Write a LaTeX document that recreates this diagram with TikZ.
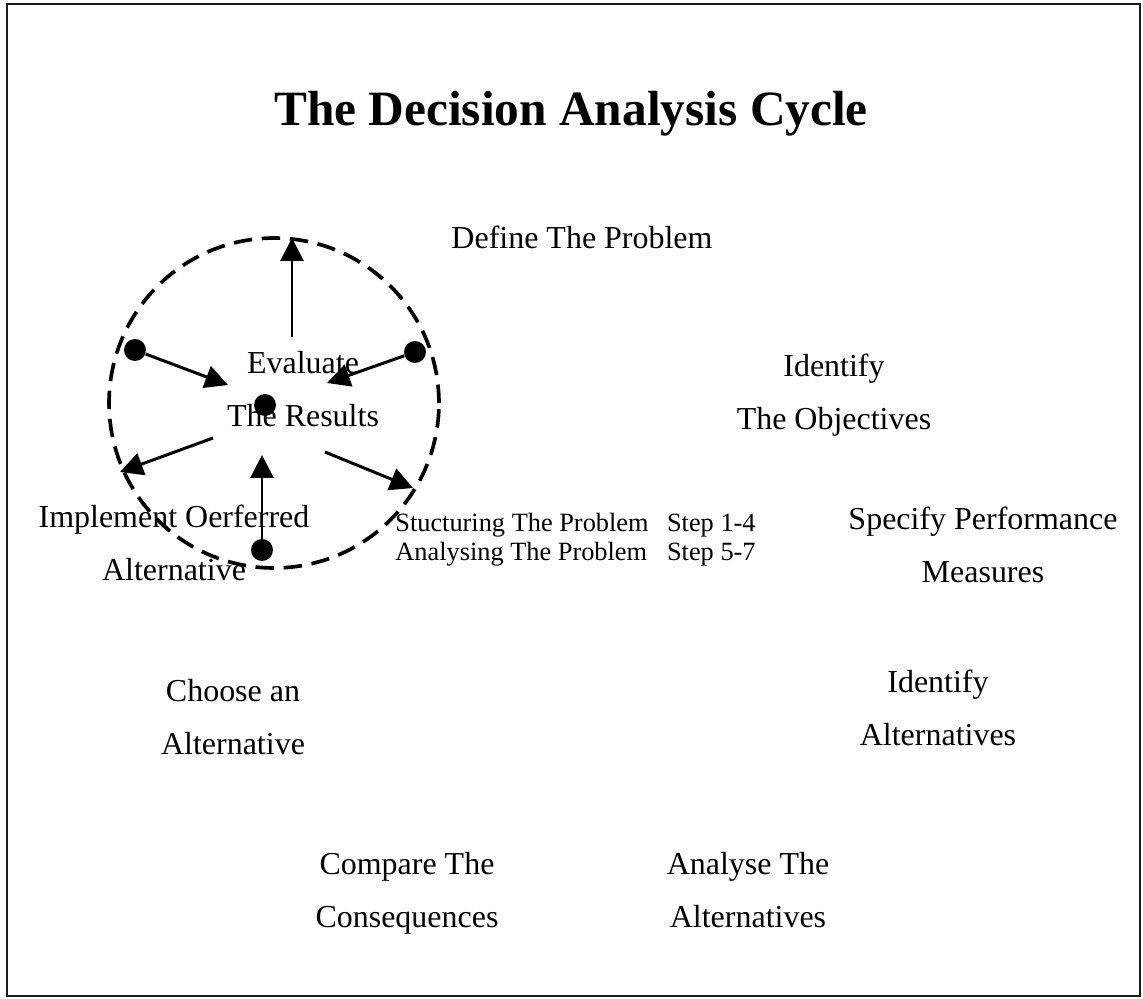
\documentclass[tikz,border=0pt]{standalone}
\usepackage{fontspec}
\setmainfont{Liberation Serif}
\usetikzlibrary{
  arrows.meta,
}
\definecolor{ink}{HTML}{000000}
\definecolor{frame}{HTML}{1A1A1A}
\tikzset{
  >={Triangle[length=13pt,width=13pt]},
  every node/.append style={text=ink},
  title/.style={font=\fontsize{28.1}{32}\selectfont\bfseries, inner sep=0pt},
  stage/.style={font=\fontsize{18.2}{30}\selectfont, align=center, inner sep=0pt},
  steps/.style={font=\fontsize{15}{17}\selectfont, inner sep=0pt},
  dot/.style={circle, fill=ink, inner sep=0pt, minimum size=12.5pt},
  spoke/.style={draw=ink, line width=1.7pt, ->},
  ring/.style={draw=ink, line width=2.1pt, dash pattern=on 10.5pt off 5.5pt},
}

\begin{document}
\begin{tikzpicture}[x=0.02cm, y=-0.02cm]
  \useasboundingbox (0,0) rectangle (1143,998);
  \draw[frame, line width=1.3pt] (7,4) rectangle (1140,996);
  \node[title, anchor=base] (head) at (571,125) {The Decision Analysis Cycle};

  % --- evaluation wheel ---
  \coordinate (hub) at (274,403);
  \draw[ring] (hub) circle (3.3cm);
  \node[dot] (dl) at (135,350) {};
  \node[dot] (dr) at (415,352) {};
  \node[dot] (dc) at (265,405) {};
  \node[dot] (db) at (262,550) {};
  \coordinate (up0) at (292,337);
  \coordinate (up1) at (292,238);
  \coordinate (tl) at (228,385);
  \coordinate (tr) at (327,383);
  \coordinate (ll0) at (213,438);
  \coordinate (ll1) at (120,472);
  \coordinate (tb) at (262,455);
  \coordinate (lr0) at (325,452);
  \coordinate (lr1) at (413,488);
  \draw[spoke] (up0) -- (up1);
  \draw[spoke] (dl) -- (tl);
  \draw[spoke] (dr) -- (tr);
  \draw[spoke] (ll0) -- (ll1);
  \draw[spoke] (db) -- (tb);
  \draw[spoke] (lr0) -- (lr1);

  % --- cycle steps ---
  \node[stage, anchor=base] (define) at (582,248) {Define The Problem};
  \node[stage] (objectives) at (834,395) {Identify\\The Objectives};
  \node[stage] (measures) at (983,545) {Specify Performance\\Measures};
  \node[stage] (identify) at (938,708) {Identify\\Alternatives};
  \node[stage] (analyse) at (748,890) {Analyse The\\Alternatives};
  \node[stage] (compare) at (407,893) {Compare The\\Consequences};
  \node[stage] (choose) at (233,717) {Choose an\\Alternative};
  \node[stage] (implement) at (174,543) {Implement Oerferred\\Alternative};
  \node[stage] (evaluate) at (303,389) {Evaluate\\The Results};

  \node[steps, anchor=base west] (phases) at (395,531) {%
    \begin{tabular}[t]{@{}l@{\hspace{0.7em}}l@{}}
      Stucturing The Problem & Step 1-4\\
      Analysing The Problem & Step 5-7
    \end{tabular}};
\end{tikzpicture}
\end{document}
